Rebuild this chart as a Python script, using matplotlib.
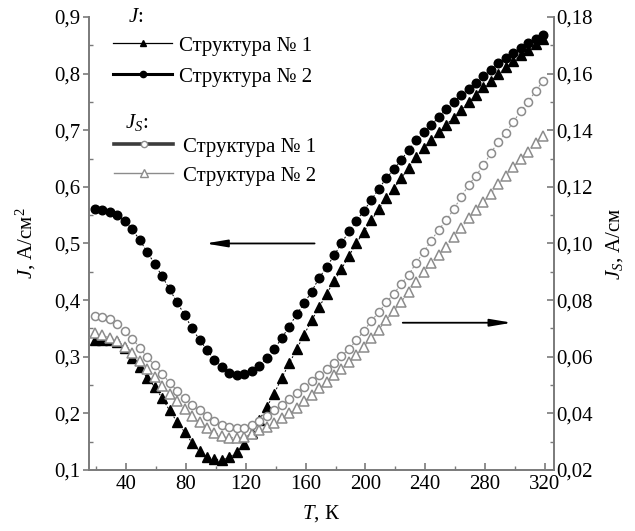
import matplotlib
matplotlib.use("Agg")
import matplotlib.pyplot as plt
from matplotlib.lines import Line2D
from matplotlib.ticker import MultipleLocator, FuncFormatter

plt.rcParams["font.family"] = ["Liberation Serif", "DejaVu Serif"]
plt.rcParams["mathtext.fontset"] = "custom"
plt.rcParams["mathtext.rm"] = "Liberation Serif"
plt.rcParams["mathtext.it"] = "Liberation Serif:italic"

# temperature, K
temps = [19, 24, 29, 34, 39, 44, 49, 54, 59, 64,
         69, 74, 79, 84, 89, 94, 99, 104, 109, 114,
         119, 124, 129, 134, 139, 144, 149, 154, 159, 164,
         169, 174, 179, 184, 189, 194, 199, 204, 209, 214,
         219, 224, 229, 234, 239, 244, 249, 254, 259, 264,
         269, 274, 279, 284, 289, 294, 299, 304, 309, 314,
         319]

# J, A/cm^2 (left axis)
j_str1 = [.330, .330, .329, .326, .316, .298, .281, .262, .247, .227,
          .205, .185, .167, .148, .133, .123, .119, .118, .122, .132,
          .146, .165, .188, .211, .235, .262, .288, .313, .339, .364,
          .387, .411, .433, .455, .478, .501, .521, .541, .561, .580,
          .597, .615, .634, .652, .668, .683, .696, .710, .722, .736,
          .750, .763, .776, .787, .799, .811, .822, .832, .842, .852,
          .862]
j_str2 = [.560, .559, .556, .550, .539, .525, .506, .485, .464, .442,
          .419, .396, .374, .350, .330, .312, .294, .281, .271, .268,
          .269, .275, .284, .298, .313, .333, .353, .375, .394, .415,
          .439, .458, .479, .500, .522, .540, .558, .577, .597, .615,
          .631, .648, .665, .683, .696, .709, .723, .737, .749, .762,
          .772, .784, .796, .806, .818, .827, .836, .845, .854, .861,
          .868]

# J_S, A/cm (right axis)
js_str1 = [.0744, .0742, .0732, .0716, .0692, .0664, .0632, .0598, .0570, .0540,
           .0508, .0480, .0454, .0430, .0410, .0390, .0374, .0360, .0352, .0348,
           .0348, .0358, .0372, .0390, .0410, .0430, .0450, .0472, .0492, .0514,
           .0536, .0558, .0578, .0602, .0628, .0658, .0692, .0726, .0758, .0792,
           .0822, .0858, .0890, .0932, .0970, .1010, .1048, .1082, .1120, .1164,
           .1206, .1240, .1276, .1320, .1360, .1390, .1430, .1468, .1500, .1540,
           .1574]
js_str2 = [.0682, .0676, .0666, .0654, .0634, .0612, .0586, .0556, .0530, .0498,
           .0470, .0442, .0416, .0392, .0368, .0348, .0332, .0320, .0314, .0314,
           .0316, .0328, .0340, .0352, .0366, .0382, .0400, .0420, .0442, .0464,
           .0488, .0512, .0534, .0558, .0580, .0606, .0636, .0666, .0696, .0730,
           .0762, .0794, .0830, .0864, .0898, .0930, .0960, .0988, .1024, .1054,
           .1090, .1118, .1146, .1176, .1210, .1240, .1270, .1300, .1324, .1354,
           .1378]

labels = ["Структура № 1", "Структура № 2"]

GREY = "#8c8c8c"
AXC = "#7a7a7a"
FS = 15

fig = plt.figure(figsize=(6.35, 5.31), dpi=100)
ax = fig.add_axes([0.140, 0.115, 0.732, 0.853])
ax2 = ax.twinx()

# J curves
ax.plot(temps, j_str1, color="black", lw=0.7, ls=(0, (2, 2)),
        marker="^", ms=7, mfc="black", mec="black")
ax.plot(temps, j_str2, color="black", lw=0.7, ls=(0, (2, 2)),
        marker="o", ms=6.2, mfc="black", mec="black")

# J_S curves
ax2.plot(temps, js_str2, color=GREY, lw=0.7, ls=(0, (2, 2)),
         marker="^", ms=7, mfc="white", mec=GREY, mew=1.1)
ax2.plot(temps, js_str1, color=GREY, lw=0.7, ls=(0, (2, 2)),
         marker="o", ms=5.8, mfc="white", mec=GREY, mew=1.1)

ax.set_xlim(15, 326)
ax.set_ylim(0.1, 0.9)
ax2.set_ylim(0.02, 0.18)

ax.xaxis.set_major_locator(MultipleLocator(40))
ax.xaxis.set_minor_locator(MultipleLocator(20))
ax.yaxis.set_major_locator(MultipleLocator(0.1))
ax.yaxis.set_minor_locator(MultipleLocator(0.05))
ax2.yaxis.set_major_locator(MultipleLocator(0.02))
ax2.yaxis.set_minor_locator(MultipleLocator(0.01))

ax.yaxis.set_major_formatter(FuncFormatter(lambda v, p: f"{v:.1f}".replace(".", ",")))
ax2.yaxis.set_major_formatter(FuncFormatter(lambda v, p: f"{v:.2f}".replace(".", ",")))
ax.xaxis.set_major_formatter(FuncFormatter(lambda v, p: f"{v:.0f}"))

for a in (ax, ax2):
    a.spines["top"].set_visible(False)
    for s in a.spines.values():
        s.set_color(AXC)
        s.set_linewidth(1.4)
ax.spines["right"].set_visible(False)
ax2.spines["left"].set_visible(False)
ax2.spines["bottom"].set_visible(False)

ax.tick_params(axis="y", which="major", direction="out", length=4, width=1.2,
               color=AXC, labelsize=FS, pad=2)
ax.tick_params(axis="y", which="minor", direction="in", length=3, width=1.0, color=AXC)
ax.tick_params(axis="x", which="major", direction="in", length=5, width=1.2,
               color=AXC, labelsize=FS, pad=4)
ax.tick_params(axis="x", which="minor", direction="in", length=3, width=1.0, color=AXC)
ax2.tick_params(axis="y", which="major", direction="in", length=5, width=1.2,
                color=AXC, labelsize=FS, pad=2)
ax2.tick_params(axis="y", which="minor", direction="in", length=3, width=1.0, color=AXC)

ax.set_xlabel(r"$T$, К", fontsize=FS, labelpad=6)
ax.set_ylabel(r"$J$, А/см$^2$", fontsize=FS, labelpad=12)
ax2.set_ylabel(r"$J_S$, А/см", fontsize=FS, labelpad=8)

# arrows pointing to the axis each group belongs to
ax.annotate("", xy=(93, 0.5), xytext=(166, 0.5),
            arrowprops=dict(arrowstyle="-|>,head_length=1.3,head_width=0.22",
                            color="black", lw=1.3, shrinkA=0, shrinkB=0))
ax2.annotate("", xy=(298, 0.072), xytext=(225, 0.072),
             arrowprops=dict(arrowstyle="-|>,head_length=1.3,head_width=0.22",
                             color="black", lw=1.3, shrinkA=0, shrinkB=0))

# legends
h_j = [Line2D([], [], color="black", lw=0.9, marker="^", ms=5, mfc="black"),
       Line2D([], [], color="black", lw=2.2, marker="o", ms=4.5, mfc="black")]
h_s = [Line2D([], [], color="#3c3c3c", lw=2.6, marker="o", ms=4.5, mfc="white", mec=GREY),
       Line2D([], [], color=GREY, lw=1.0, marker="^", ms=5.5, mfc="white", mec=GREY)]

leg1 = ax2.legend(h_j, labels, loc="upper left", bbox_to_anchor=(0.052, 0.958),
                  frameon=False, fontsize=FS, handlelength=2.85, handletextpad=0.3,
                  labelspacing=0.55, borderpad=0, borderaxespad=0)
ax2.add_artist(leg1)
ax2.legend(h_s, labels, loc="upper left", bbox_to_anchor=(0.055, 0.735),
           frameon=False, fontsize=FS, handlelength=2.8, handletextpad=0.5,
           labelspacing=0.45, borderpad=0, borderaxespad=0)

ax.text(0.084, 0.998, r"$J$:", transform=ax.transAxes, fontsize=FS, va="center", ha="left")
ax.text(0.078, 0.766, r"$J_S$:", transform=ax.transAxes, fontsize=FS, va="center", ha="left")

fig.savefig("out.png", dpi=100)
